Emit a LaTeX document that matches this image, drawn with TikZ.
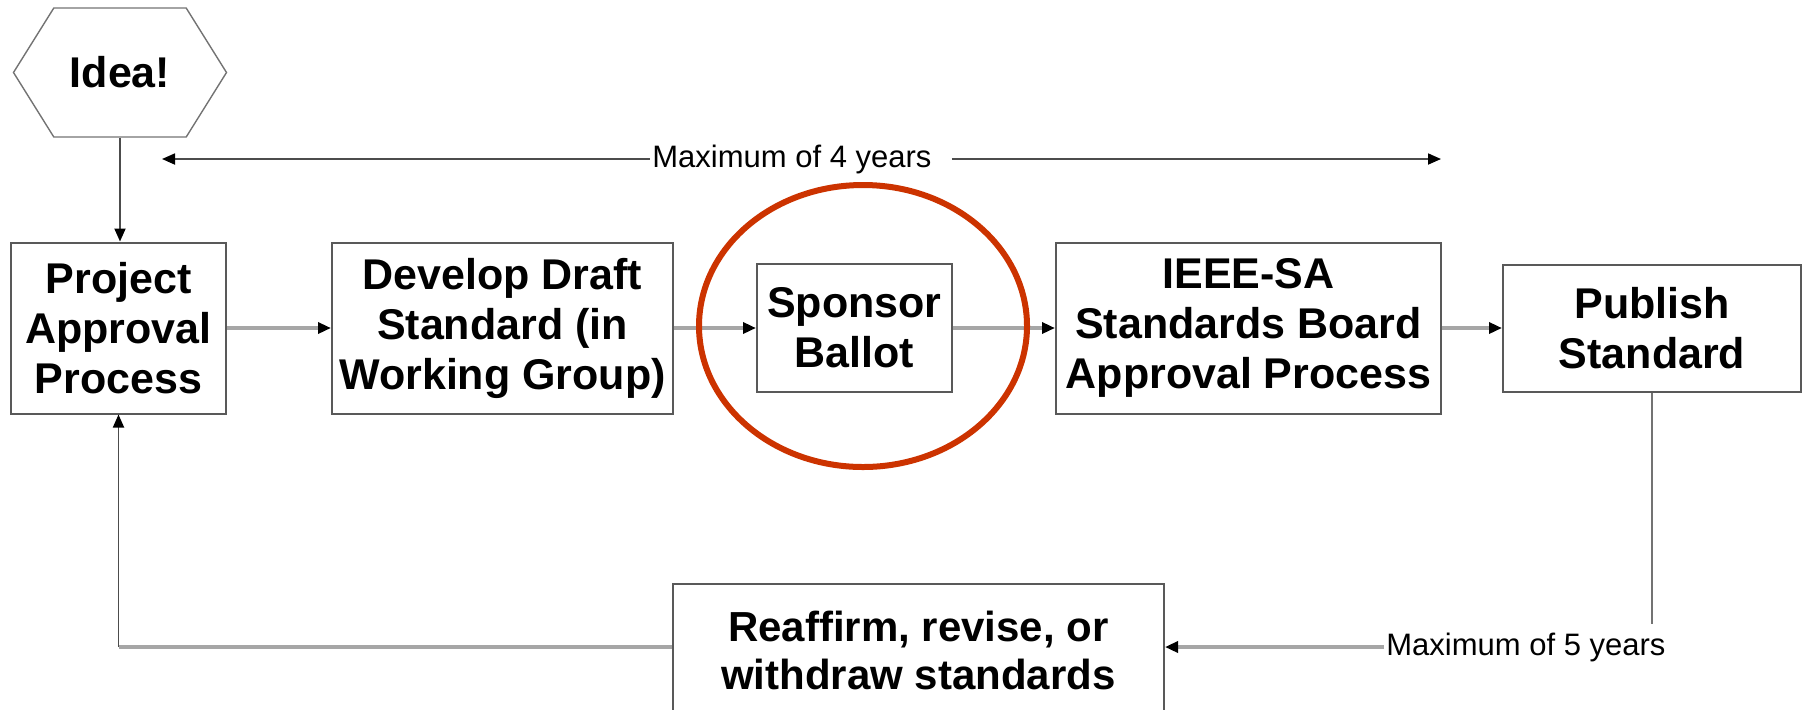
\documentclass[tikz,border=0pt]{standalone}
\usepackage{fontspec}
\setmainfont{Liberation Sans}
\usetikzlibrary{arrows.meta,shapes.symbols}
\definecolor{ringred}{RGB}{204,51,0}

\begin{document}
\begin{tikzpicture}[
  x=0.5pt, y=-0.5pt,
  box/.style={draw=black!65, line width=1pt, fill=white, align=center,
    inner sep=0pt, font=\fontsize{21.5}{25}\selectfont\bfseries},
  hexa/.style={signal, signal to=west and east, signal pointer angle=116,
    draw=black!55, line width=0.7pt, inner sep=0pt,
    minimum width=106.5pt, minimum height=64.5pt,
    font=\fontsize{21.5}{25}\selectfont\bfseries},
  lbl/.style={inner sep=1pt, font=\fontsize{15.5}{18}\selectfont},
  tip/.style={-{Triangle[length=6.5pt, width=5.5pt, color=black]}},
  flow/.style={tip, draw=black!35, line width=1.9pt},
  link/.style={draw=black!70, line width=0.9pt},
  ring/.style={draw=ringred, line width=3pt}
]
\clip (0,0) rectangle (1803,709);

% ── Start and the four stages ─────────────────────────────────────────────
\node[hexa] (idea) at (120,72.5) {Idea!};
\node[box, minimum width=107.5pt, minimum height=85.5pt] (proj)
  at (118.5,328) {Project\\Approval\\Process};
\node[box, minimum width=170.5pt, minimum height=85.5pt] (draft)
  at (502.5,328) {Develop Draft\\Standard (in\\Working Group)};
\node[box, minimum width=97.5pt, minimum height=64pt] (ballot)
  at (854.5,328) {Sponsor\\Ballot};
\node[box, minimum width=192.5pt, minimum height=85.5pt] (board)
  at (1248.5,328) {IEEE-SA\\Standards Board\\Approval Process};
\node[box, minimum width=149pt, minimum height=63.5pt] (pub)
  at (1652,328) {Publish\\Standard};

\draw[link, tip] (idea.south) -- (idea.south |- proj.north);
\draw[flow] (proj) -- (draft);
\draw[flow] (draft) -- (ballot);
\draw[flow] (ballot) -- (board);
\draw[flow] (board) -- (pub);

% ── Four-year span ────────────────────────────────────────────────────────
\coordinate (span-l) at (162,159);
\coordinate (span-r) at (1441,159);
\node[lbl, anchor=west] (max4) at (650,159) {Maximum of 4 years};
\draw[link, {Triangle[length=6.5pt, width=5.5pt, color=black]}-] (span-l) -- (max4.west);
\draw[link, tip] ([xshift=9pt]max4.east) -- (span-r);

% ── Five-year review loop ─────────────────────────────────────────────────
\node[box, minimum width=245.5pt, minimum height=66pt,
  font=\fontsize{21}{24}\selectfont\bfseries] (review)
  at (918.5,650) {Reaffirm, revise, or\\withdraw standards};
\node[lbl, anchor=west] (max5) at (1384,647) {Maximum of 5 years};
\draw[link, draw=black!55] (pub.south) -- ([yshift=3pt]pub.south |- max5.north);
\draw[flow] (max5.west) -- (max5.west -| review.east);
\draw[flow, -] (review.west |- max5.west) -- (proj.south |- max5.west);
\draw[link, tip] (proj.south |- max5.west) -- (proj.south);

% ── Highlight ─────────────────────────────────────────────────────────────
\draw[ring] (863,326) ellipse [x radius=82pt, y radius=70.5pt];

\end{tikzpicture}
\end{document}
